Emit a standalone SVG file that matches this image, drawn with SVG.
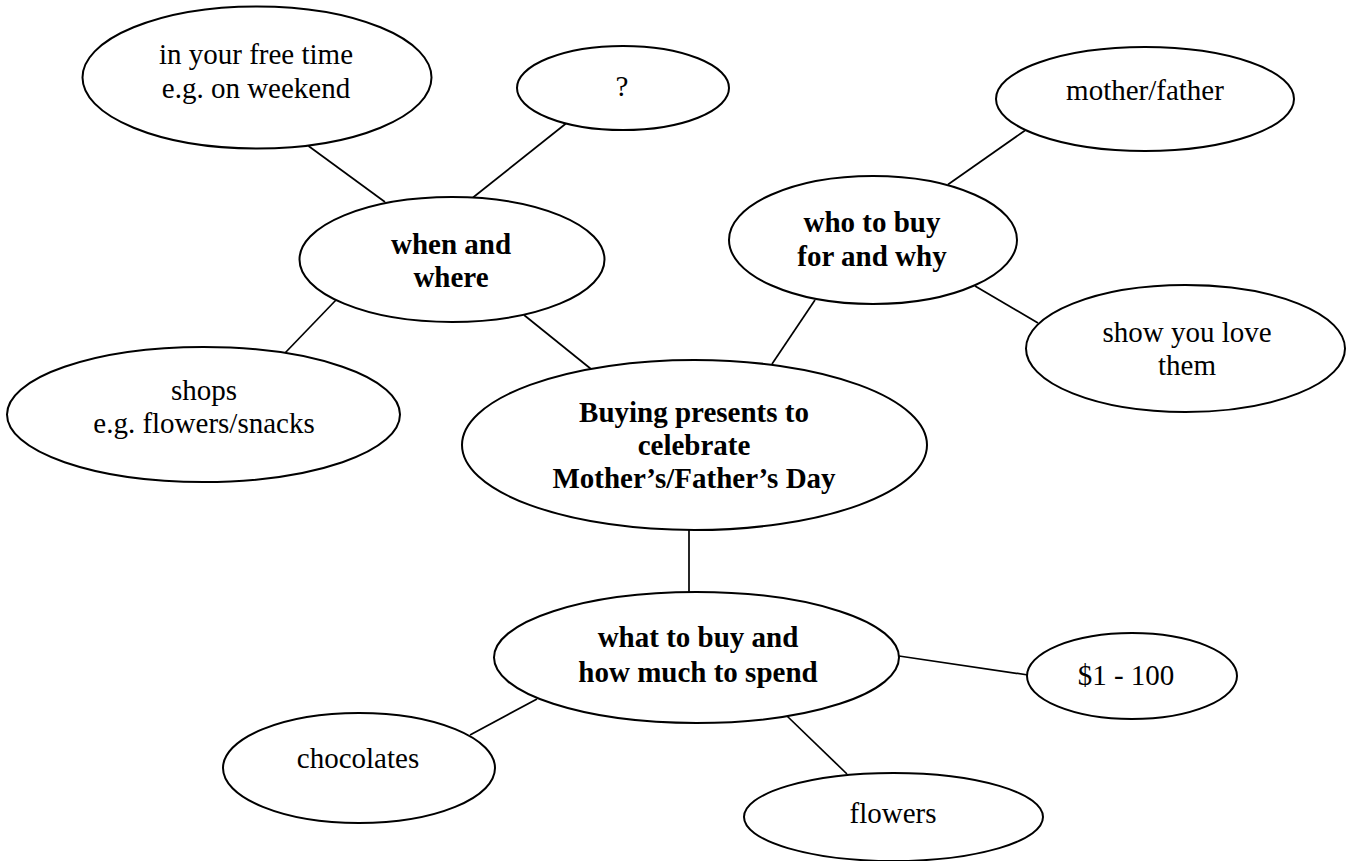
<svg xmlns="http://www.w3.org/2000/svg" width="1351" height="861" viewBox="0 0 1351 861">
<style>
ellipse{fill:#fff;stroke:#000;stroke-width:2}
line{stroke:#000;stroke-width:1.7}
text{font-family:"Liberation Serif","Times New Roman",serif;font-size:29px;fill:#000;text-anchor:middle}
.b{font-weight:bold}
</style>
<rect width="1351" height="861" fill="#fff"/>
<g id="connectors">
<line x1="308.5" y1="146" x2="385" y2="202"/>
<line x1="566" y1="123.5" x2="473" y2="197.5"/>
<line x1="1025" y1="130.5" x2="948" y2="184.5"/>
<line x1="975" y1="286" x2="1038" y2="323"/>
<line x1="815" y1="300" x2="772" y2="364"/>
<line x1="524" y1="315" x2="591" y2="369"/>
<line x1="336" y1="300" x2="285" y2="353"/>
<line x1="689" y1="530" x2="689" y2="592"/>
<line x1="899" y1="656" x2="1028" y2="675"/>
<line x1="537" y1="699" x2="470" y2="735"/>
<line x1="787" y1="716" x2="847" y2="774"/>
</g>
<g id="n-free"><ellipse cx="257" cy="77.5" rx="174.5" ry="71"/><text x="256" y="64">in your free time</text><text x="256" y="98">e.g. on weekend</text></g>
<g id="n-q"><ellipse cx="623" cy="88" rx="106" ry="42"/><text x="622" y="96">?</text></g>
<g id="n-mf"><ellipse cx="1145" cy="99" rx="149" ry="52"/><text x="1145" y="100">mother/father</text></g>
<g id="n-when"><ellipse cx="452" cy="259.5" rx="152.5" ry="62.5"/><text class="b" x="451" y="254">when and</text><text class="b" x="451" y="287">where</text></g>
<g id="n-who"><ellipse cx="873" cy="240" rx="144" ry="64"/><text class="b" x="872" y="232">who to buy</text><text class="b" x="872" y="266">for and why</text></g>
<g id="n-love"><ellipse cx="1185.5" cy="348.5" rx="159.5" ry="63.5"/><text x="1187" y="342">show you love</text><text x="1187" y="375">them</text></g>
<g id="n-shops"><ellipse cx="203.5" cy="414.5" rx="196.5" ry="67.5"/><text x="204" y="400">shops</text><text x="204" y="433">e.g. flowers/snacks</text></g>
<g id="n-center"><ellipse cx="694.5" cy="445" rx="232.5" ry="85"/><text class="b" x="694" y="422">Buying presents to</text><text class="b" x="694" y="455">celebrate</text><text class="b" x="694" y="488">Mother’s/Father’s Day</text></g>
<g id="n-what"><ellipse cx="696.5" cy="657.5" rx="202.5" ry="65.5"/><text class="b" x="698" y="647">what to buy and</text><text class="b" x="698" y="682">how much to spend</text></g>
<g id="n-money"><ellipse cx="1132" cy="676" rx="105" ry="43"/><text x="1126" y="685">$1 - 100</text></g>
<g id="n-choc"><ellipse cx="359" cy="768" rx="136" ry="55"/><text x="358" y="768">chocolates</text></g>
<g id="n-flowers"><ellipse cx="893.5" cy="817" rx="149.5" ry="44"/><text x="893" y="823">flowers</text></g>
</svg>
